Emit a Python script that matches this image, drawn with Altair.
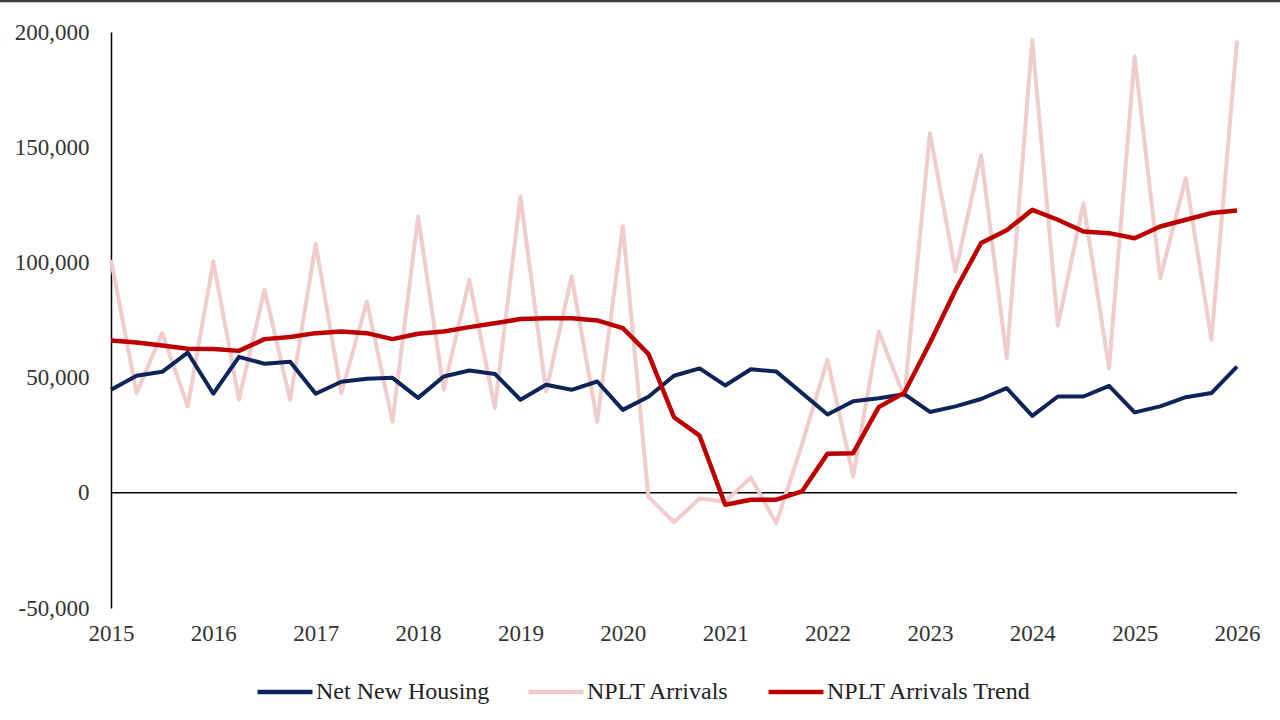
import altair as alt
import pandas as pd

# Quarterly observations, 2015 Q1 through 2026 Q1
quarters = [2015 + i / 4 for i in range(45)]

net_new_housing = [
    44700, 50800, 52500, 60800, 43000, 59000, 56000, 56900,
    43000, 48200, 49500, 49900, 41200, 50500, 53100, 51600,
    40400, 46900, 44700, 48300, 36000, 41700, 50800, 54000,
    46600, 53600, 52600, 43300, 34000, 39700, 41000, 42800,
    35100, 37500, 40700, 45400, 33400, 41800, 41800, 46400,
    34900, 37500, 41500, 43300, 54800,
]

nplt_arrivals = [
    101100, 43300, 69300, 37500, 100400, 40400, 88100, 40400,
    108000, 43300, 83000, 30900, 119900, 44700, 92400, 36800,
    128600, 44000, 93900, 30900, 115700, -1800, -12800, -2500,
    -3800, 6600, -13200, 21000, 57700, 7100, 70000, 41500,
    156100, 96000, 146700, 58500, 196600, 72500, 125700, 54100,
    189400, 93200, 136600, 66400, 196300,
]

nplt_trend = [
    66100, 65200, 63900, 62500, 62400, 61600, 66700, 67600,
    69300, 70000, 69300, 66700, 69000, 70000, 71900, 73600,
    75400, 75800, 75800, 74800, 71500, 60300, 32800, 24800,
    -5200, -3000, -3000, 600, 17000, 17200, 37200, 43400,
    65000, 88000, 108400, 114000, 122800, 118500, 113400, 112700,
    110500, 115600, 118500, 121400, 122500,
]

series_names = ["Net New Housing", "NPLT Arrivals", "NPLT Arrivals Trend"]
series_colors = ["#0C2459", "#F0CCCC", "#BC0000"]
year_ticks = list(range(2015, 2027))
value_ticks = [-50000, 0, 50000, 100000, 150000, 200000]

frames = []
for name, values in zip(series_names, [net_new_housing, nplt_arrivals, nplt_trend]):
    frames.append(pd.DataFrame({"quarter": quarters, "value": values, "series": name}))
df = pd.concat(frames, ignore_index=True)

FONT = "Liberation Serif"
W, H = 1126, 576

x_enc = alt.X(
    "quarter:Q",
    scale=alt.Scale(domain=[2015, 2026], nice=False, zero=False),
    axis=alt.Axis(
        values=year_ticks, format="d", title=None, grid=False, domain=False,
        ticks=False, tickSize=0, labelPadding=14, labelFontSize=23,
        labelFont=FONT, labelColor="#333333", labelFlush=False,
    ),
)
y_enc = alt.Y(
    "value:Q",
    scale=alt.Scale(domain=[-50000, 200000], nice=False),
    axis=alt.Axis(
        values=value_ticks, title=None, grid=False, ticks=False, tickSize=0,
        labelPadding=22, labelFontSize=23, labelFont=FONT, labelColor="#333333",
        domainColor="#000000", domainWidth=1.5,
        labelExpr="datum.value < 0 ? '-' + format(-datum.value, ',') : format(datum.value, ',')",
    ),
)
color_enc = alt.Color(
    "series:N",
    scale=alt.Scale(domain=series_names, range=series_colors),
    legend=alt.Legend(
        title=None, orient="none", direction="horizontal", legendX=144, legendY=630,
        symbolType="stroke", symbolSize=3025, symbolStrokeWidth=4.5,
        labelFont=FONT, labelFontSize=24, labelColor="#222222", labelOffset=1,
        labelLimit=0, columnPadding=29, padding=0,
    ),
)

base = alt.Chart(df)


def series_line(name, width):
    return base.transform_filter(alt.datum.series == name).mark_line(
        strokeWidth=width, strokeJoin="round", strokeCap="butt"
    ).encode(x=x_enc, y=y_enc, color=color_enc)


zero_line = alt.Chart(pd.DataFrame({"v": [0]})).mark_rule(
    color="#000000", strokeWidth=1.5
).encode(y=alt.Y("v:Q", scale=alt.Scale(domain=[-50000, 200000], nice=False)),
         x=alt.value(0), x2=alt.value(W))

top_border = alt.Chart(pd.DataFrame({"v": [0]})).mark_rule(
    color="#3a3a3a", strokeWidth=2.5
).encode(x=alt.value(-111), x2=alt.value(1169), y=alt.value(-31))

chart = alt.layer(
    zero_line,
    series_line("NPLT Arrivals", 4),
    series_line("Net New Housing", 4),
    series_line("NPLT Arrivals Trend", 4.5),
    top_border,
).properties(
    width=W, height=H,
    autosize=alt.AutoSizeParams(type="none"),
    padding={"left": 111, "top": 32, "right": 43, "bottom": 112},
    background="#FFFFFF",
).configure_view(stroke=None)

chart.save("out.html", embed_options={"renderer": "svg", "actions": False})
